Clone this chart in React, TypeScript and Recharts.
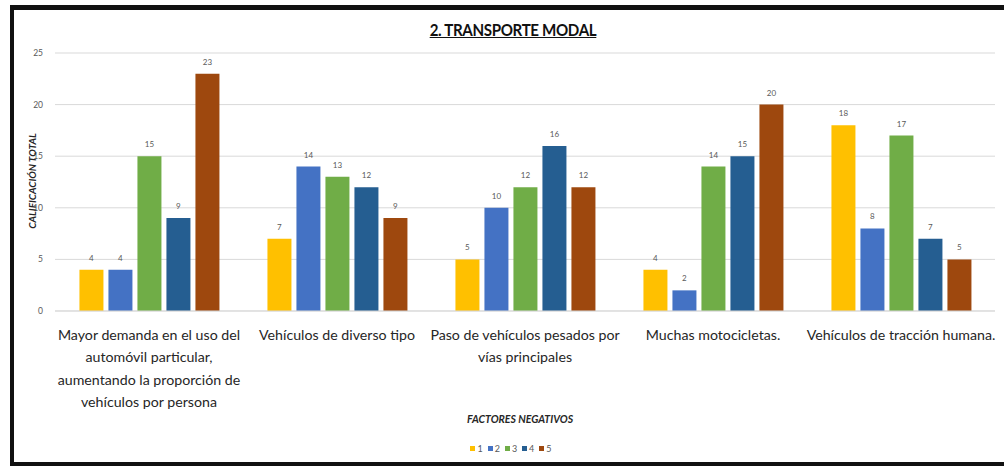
import { Bar, BarChart, CartesianGrid, LabelList, XAxis, YAxis } from "recharts";

const categories = [
  "Mayor demanda en el uso del|automóvil particular,|aumentando la proporción de|vehículos por persona",
  "Vehículos de diverso tipo",
  "Paso de vehículos pesados por|vías principales",
  "Muchas motocicletas.",
  "Vehículos de tracción humana.",
];

const s1 = [4, 7, 5, 4, 18];
const s2 = [4, 14, 10, 2, 8];
const s3 = [15, 13, 12, 14, 17];
const s4 = [9, 12, 16, 15, 7];
const s5 = [23, 9, 12, 20, 5];

const seriesNames = ["1", "2", "3", "4", "5"];
const colors = ["#FFC000", "#4472C4", "#70AD47", "#255E91", "#9E480E"];
const yTicks = [0, 5, 10, 15, 20, 25];

const rows = categories.map((c, i) => ({
  cat: c,
  "1": s1[i],
  "2": s2[i],
  "3": s3[i],
  "4": s4[i],
  "5": s5[i],
}));

const FONT = "Lato, 'Liberation Sans', sans-serif";

function CatTick(props: { x?: number; y?: number; payload?: { value?: string } }) {
  const { x = 0, y = 0, payload } = props;
  const lines = (payload?.value ?? "").split("|");
  return (
    <g transform={`translate(${x},${y})`}>
      {lines.map((l, i) => (
        <text
          key={i}
          x={0}
          y={0}
          dy={21 + i * 22.4}
          textAnchor="middle"
          fill="#262626"
          fontFamily={FONT}
          fontSize={14.2}
        >
          {l}
        </text>
      ))}
    </g>
  );
}

export default function App() {
  return (
    <div style={{ position: "absolute", left: 0, top: 0, width: 1004, height: 466, background: "#fff", fontFamily: FONT }}>
      {/* frame */}
      <div style={{ position: "absolute", left: 10, top: 5, width: 994, height: 5, background: "#111" }} />
      <div style={{ position: "absolute", left: 10, top: 5, width: 4, height: 461, background: "#111" }} />
      <div style={{ position: "absolute", left: 10, top: 462, width: 994, height: 4, background: "#111" }} />

      <BarChart
        width={1004}
        height={466}
        data={rows}
        margin={{ top: 53, right: 9, left: 0, bottom: 0 }}
        barCategoryGap="13%"
        barGap={5}
      >
        <CartesianGrid stroke="#d9d9d9" vertical={false} />
        <XAxis
          dataKey="cat"
          height={155}
          interval={0}
          tickLine={false}
          axisLine={{ stroke: "#d9d9d9" }}
          tick={<CatTick />}
        />
        <YAxis
          width={55}
          domain={[0, 25]}
          ticks={yTicks}
          axisLine={false}
          tickLine={false}
          tickMargin={6}
          tick={{ fill: "#595959", fontSize: 8.5, fontFamily: FONT }}
        />
        {seriesNames.map((s, i) => (
          <Bar key={s} dataKey={s} fill={colors[i]} isAnimationActive={false}>
            <LabelList dataKey={s} position="top" offset={9} fill="#595959" fontSize={8} fontFamily={FONT} />
          </Bar>
        ))}
      </BarChart>

      {/* title */}
      <div
        style={{
          position: "absolute",
          left: 413,
          width: 200,
          top: 19,
          textAlign: "center",
          fontWeight: 700,
          fontSize: 17,
          textDecoration: "underline",
          color: "#111",
          letterSpacing: -0.4,
          transform: "scaleX(0.89)",
        }}
      >
        2. TRANSPORTE MODAL
      </div>

      {/* y axis title */}
      <div
        style={{
          position: "absolute",
          left: 32,
          top: 181,
          transform: "translate(-50%,-50%) rotate(-90deg)",
          whiteSpace: "nowrap",
          fontWeight: 700,
          fontStyle: "italic",
          fontSize: 10,
          color: "#262626",
        }}
      >
        CALIFICACIÓN TOTAL
      </div>

      {/* x axis title */}
      <div
        style={{
          position: "absolute",
          left: 0,
          width: 1040,
          top: 413,
          textAlign: "center",
          fontWeight: 700,
          fontStyle: "italic",
          fontSize: 10.5,
          color: "#262626",
        }}
      >
        FACTORES NEGATIVOS
      </div>

      {/* legend */}
      <div
        style={{
          position: "absolute",
          left: 0,
          width: 1022,
          top: 443,
          display: "flex",
          justifyContent: "center",
          gap: 5,
          fontSize: 9,
          color: "#595959",
        }}
      >
        {seriesNames.map((s, i) => (
          <span key={s} style={{ display: "flex", alignItems: "center", gap: 2 }}>
            <span style={{ width: 5, height: 5, background: colors[i], display: "inline-block" }} />
            {s}
          </span>
        ))}
      </div>
    </div>
  );
}
